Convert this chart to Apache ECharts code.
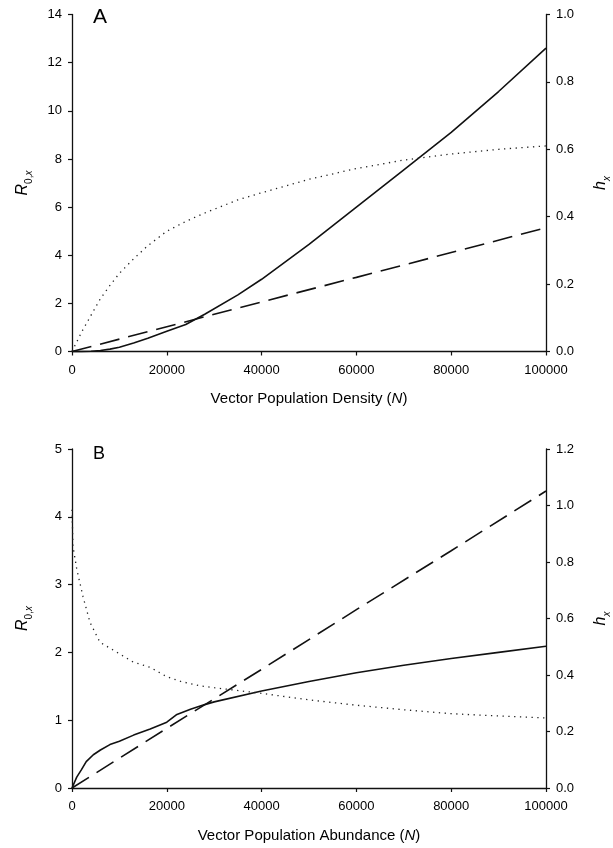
<!DOCTYPE html>
<html>
<head>
<meta charset="utf-8">
<script src="https://cdn.jsdelivr.net/npm/echarts@6/dist/echarts.min.js"></script>
<style>
  html, body { margin: 0; padding: 0; background: #fff; }
  #chart { width: 613px; height: 848px; }
</style>
</head>
<body>
<div id="chart"></div>
<script>
// Panel A: vector population density
const densityN = [0, 2000, 4000, 6000, 8000, 10000, 13000, 16000, 20000, 24000, 28000, 35000, 40000, 50000, 60000, 70000, 80000, 90000, 100000];
const r0SolidA = [0, 0, 0.01, 0.04, 0.1, 0.18, 0.35, 0.55, 0.84, 1.12, 1.55, 2.35, 3.0, 4.45, 6.0, 7.55, 9.1, 10.8, 12.6];
const dashedN_A = [0, 20000, 40000, 60000, 80000, 100000];
const r0DashedA = [0, 1.03, 2.06, 3.08, 4.11, 5.14];
const hxDottedA = [0, 0.057, 0.107, 0.157, 0.196, 0.232, 0.275, 0.314, 0.357, 0.386, 0.411, 0.45, 0.471, 0.511, 0.543, 0.568, 0.586, 0.6, 0.61];

// Panel B: vector population abundance
const abundanceN = [0, 1000, 2000, 3000, 4500, 6000, 8000, 10000, 13000, 16500, 20000, 22000, 25000, 28000, 30000, 40000, 50000, 60000, 70000, 80000, 90000, 100000];
const r0SolidB = [0, 0.16, 0.27, 0.39, 0.49, 0.56, 0.64, 0.69, 0.78, 0.87, 0.97, 1.08, 1.16, 1.23, 1.27, 1.43, 1.57, 1.7, 1.81, 1.91, 2.0, 2.09];
const dashedN_B = [0, 20000, 40000, 60000, 80000, 100000];
const r0DashedB = [0, 0.88, 1.75, 2.63, 3.5, 4.38];
const dottedN_B = [0, 200, 1000, 2300, 3800, 5900, 9500, 12900, 16500, 20000, 23000, 27000, 30000, 40000, 50000, 60000, 70000, 80000, 90000, 100000];
const hxDottedB = [0.985, 0.857, 0.775, 0.679, 0.586, 0.516, 0.48, 0.446, 0.427, 0.394, 0.377, 0.362, 0.355, 0.335, 0.312, 0.293, 0.277, 0.263, 0.255, 0.248];

const FONT = '"Liberation Sans", Arial, Helvetica, sans-serif';
const INK = '#111';

const pairs = (xs, ys) => xs.map((x, i) => [x, ys[i]]);

const axisLine = { show: true, lineStyle: { color: INK, width: 1.3 } };
const axisTick = { show: true, inside: false, length: 4, lineStyle: { color: INK, width: 1.2 } };
const label = { color: '#000', fontSize: 13, fontFamily: FONT };

function xAxis(gridIndex, title) {
  return {
    type: 'value', gridIndex, min: 0, max: 100000, interval: 20000,
    axisLine, axisTick, splitLine: { show: false },
    axisLabel: Object.assign({ margin: 12, formatter: v => String(v) }, label),
    name: title, nameLocation: 'middle', nameGap: 40,
    nameTextStyle: {
      color: '#000', fontSize: 15, fontFamily: FONT,
      rich: { i: { fontStyle: 'italic', fontSize: 15, fontFamily: FONT, color: '#000' } }
    }
  };
}

const r0Name = '{r|R}{s|0,}{x|x}';
const r0Rich = {
  r: { fontStyle: 'italic', fontSize: 16, fontFamily: FONT, color: '#000', lineHeight: 22 },
  s: { fontSize: 10, fontFamily: FONT, color: '#000', verticalAlign: 'bottom', lineHeight: 12 },
  x: { fontSize: 10, fontStyle: 'italic', fontFamily: FONT, color: '#000', verticalAlign: 'bottom', lineHeight: 12 }
};
const hxName = '{h|h}{x|x}';
const hxRich = {
  h: { fontStyle: 'italic', fontSize: 16, fontFamily: FONT, color: '#000', lineHeight: 22 },
  x: { fontSize: 10, fontStyle: 'italic', fontFamily: FONT, color: '#000', verticalAlign: 'bottom', lineHeight: 12 }
};

function leftAxis(gridIndex, max, interval) {
  return {
    type: 'value', gridIndex, position: 'left', min: 0, max, interval,
    axisLine, axisTick, splitLine: { show: false },
    axisLabel: Object.assign({ margin: 10 }, label),
    name: r0Name, nameLocation: 'middle', nameRotate: 90, nameGap: 38,
    nameTextStyle: { rich: r0Rich }
  };
}
function rightAxis(gridIndex, max) {
  return {
    type: 'value', gridIndex, position: 'right', min: 0, max, interval: 0.2,
    axisLine, axisTick, splitLine: { show: false },
    axisLabel: Object.assign({ margin: 10, formatter: v => v.toFixed(1) }, label),
    name: hxName, nameLocation: 'middle', nameRotate: 90, nameGap: 44,
    nameTextStyle: { rich: hxRich }
  };
}

const solid = { color: INK, width: 1.6, type: 'solid' };
const dashed = { color: INK, width: 1.6, type: [20, 9] };
const dotted = { color: '#222', width: 1.3, type: [1.3, 4.5] };

function line(name, data, xi, yi, style) {
  return {
    name, type: 'line', xAxisIndex: xi, yAxisIndex: yi, data,
    showSymbol: false, smooth: false, lineStyle: style, silent: true,
    animation: false, clip: false
  };
}

const chart = echarts.init(document.getElementById('chart'), null, { renderer: 'canvas' });
chart.setOption({
  backgroundColor: '#fff',
  animation: false,
  grid: [
    { left: 72, right: 67, top: 14.5, height: 337, containLabel: false, outerBoundsMode: 'none' },
    { left: 72, right: 67, top: 449, height: 339, containLabel: false, outerBoundsMode: 'none' }
  ],
  xAxis: [
    xAxis(0, 'Vector Population Density ({i|N})'),
    xAxis(1, 'Vector Population Abundance ({i|N})')
  ],
  yAxis: [
    leftAxis(0, 14, 2),
    rightAxis(0, 1.0),
    leftAxis(1, 5, 1),
    rightAxis(1, 1.2)
  ],
  series: [
    line('R0 solid A', pairs(densityN, r0SolidA), 0, 0, solid),
    line('R0 dashed A', pairs(dashedN_A, r0DashedA), 0, 0, dashed),
    line('hx A', pairs(densityN, hxDottedA), 0, 1, dotted),
    line('R0 solid B', pairs(abundanceN, r0SolidB), 1, 2, solid),
    line('R0 dashed B', pairs(dashedN_B, r0DashedB), 1, 2, dashed),
    line('hx B', pairs(dottedN_B, hxDottedB), 1, 3, dotted)
  ],
  graphic: [
    { type: 'text', left: 93, top: 7, style: { text: 'A', fontSize: 21, fontFamily: FONT, fill: '#000' } },
    { type: 'text', left: 93, top: 445, style: { text: 'B', fontSize: 18, fontFamily: FONT, fill: '#000' } }
  ]
});
</script>
</body>
</html>
